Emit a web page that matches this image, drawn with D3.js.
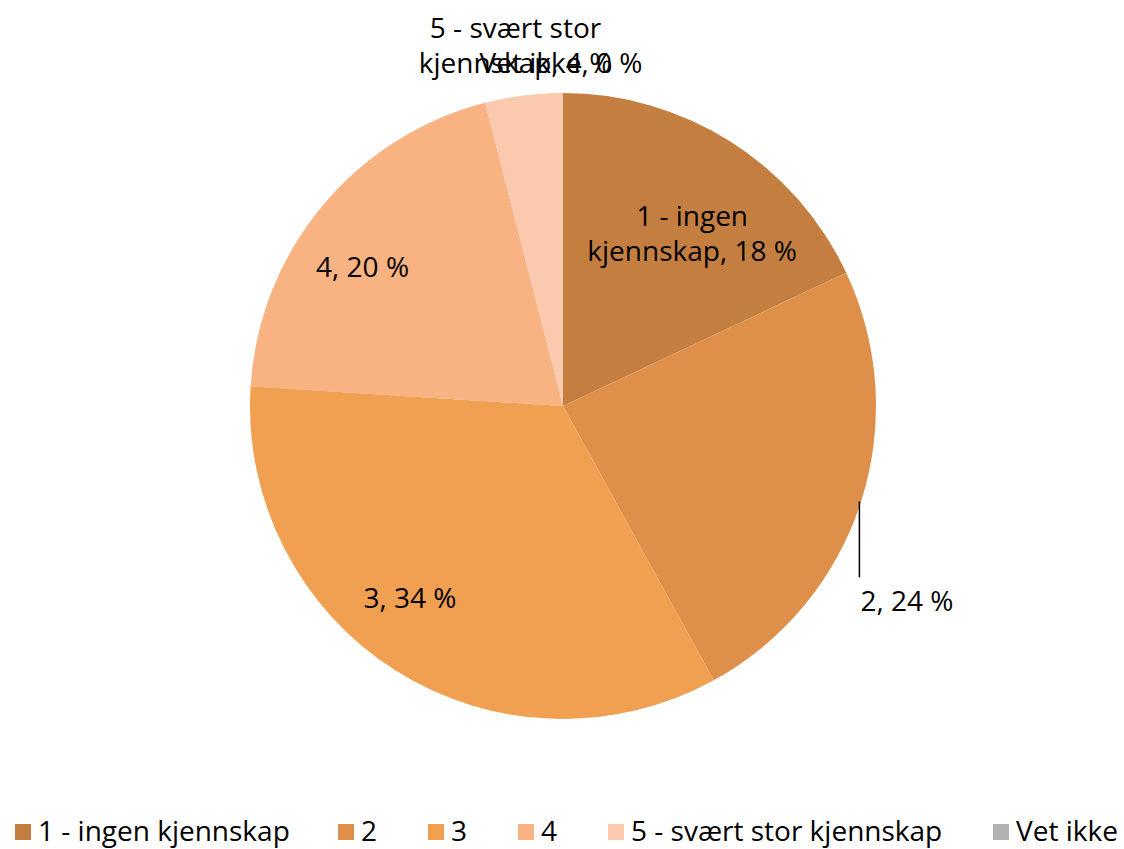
<!DOCTYPE html>
<html>
<head>
<meta charset="utf-8">
<script src="https://cdn.jsdelivr.net/npm/d3@7"></script>
<style>
	body { margin: 0; background: #fff; }
	svg { display: block; font-family: 'Open Sans', sans-serif; }
</style>
</head>
<body>
<div id="chart"></div>
<script>
// data
const categories = ['1 - ingen kjennskap', '2', '3', '4', '5 - svært stor kjennskap', 'Vet ikke']
const values = [18, 24, 34, 20, 4, 0]
const colors = ['#c47f40', '#de904a', '#f0a050', '#f9b281', '#fbc9ae', '#b2b2b2']
// label text lines per slice
const labelLines = [
	['1 - ingen', 'kjennskap, 18 %'],
	['2, 24 %'],
	['3, 34 %'],
	['4, 20 %'],
	['5 - svært stor', 'kjennskap, 4 %'],
	['Vet ikke, 0 %'],
]

const width = 1124
const height = 849
const cx = 563
const cy = 406
const radius = 313
const fontSize = 28

const svg = d3.select('#chart').append('svg')
	.attr('width', width)
	.attr('height', height)

const pie = d3.pie().sort(null).value(d => d)
const arcs = pie(values)
const arc = d3.arc().innerRadius(0).outerRadius(radius)

const g = svg.append('g').attr('transform', `translate(${cx},${cy})`)

g.selectAll('path')
	.data(arcs)
	.join('path')
	.attr('d', arc)
	.attr('fill', (d, i) => colors[i])

// label placement: ring radius (share of pie radius) plus a nudge, like Excel places them
const labelLayout = [
	{ r: 0.74, dx: 5, dy: 22, anchor: 'middle' },
	{ r: 1.12, dx: -36, dy: 86, anchor: 'start' },
	{ r: 0.74, dx: -29, dy: -5, anchor: 'middle' },
	{ r: 0.74, dx: -22, dy: 8, anchor: 'middle' },
	{ r: 1.16, dx: -2, dy: -1, anchor: 'middle' },
	{ r: 1.12, dx: -2, dy: 7, anchor: 'middle' },
]
const lineH = 35

const labelPos = arcs.map((d, i) => {
	const o = labelLayout[i]
	const a = (d.startAngle + d.endAngle) / 2
	return {
		x: Math.sin(a) * radius * o.r + o.dx,
		y: -Math.cos(a) * radius * o.r + o.dy,
		anchor: o.anchor,
	}
})

// leader line for slice 2, from inside the pie edge down to its label
{
	const lx = labelPos[1].x - 1
	g.append('line')
		.attr('x1', lx).attr('x2', lx)
		.attr('y1', Math.sqrt(radius * radius - lx * lx) - 5)
		.attr('y2', labelPos[1].y - 23)
		.attr('stroke', '#000')
		.attr('stroke-width', 1.5)
}

const labels = g.append('g')
	.selectAll('text')
	.data(labelLines)
	.join('text')
	.attr('font-size', fontSize)
	.attr('fill', '#000')
	.attr('text-anchor', (d, i) => labelPos[i].anchor)
	.attr('x', (d, i) => labelPos[i].x)
	.attr('y', (d, i) => labelPos[i].y - ((d.length - 1) * lineH) / 2)
	.attr('dominant-baseline', 'central')

labels.selectAll('tspan')
	.data((d, i) => d.map(t => ({ t, i })))
	.join('tspan')
	.attr('x', d => labelPos[d.i].x)
	.attr('dy', (d, j) => (j === 0 ? 0 : lineH))
	.text(d => d.t)

// legend
const legendX = [15, 338, 428, 518, 608, 993]
const legendY = 830
const legend = svg.append('g')
	.selectAll('g')
	.data(categories)
	.join('g')
	.attr('transform', (d, i) => `translate(${legendX[i]},${legendY})`)

legend.append('rect')
	.attr('x', 0)
	.attr('y', -6)
	.attr('width', 16)
	.attr('height', 16)
	.attr('fill', (d, i) => colors[i])

legend.append('text')
	.attr('x', 23)
	.attr('y', 0)
	.attr('dominant-baseline', 'central')
	.attr('font-size', fontSize)
	.text(d => d)
</script>
</body>
</html>
